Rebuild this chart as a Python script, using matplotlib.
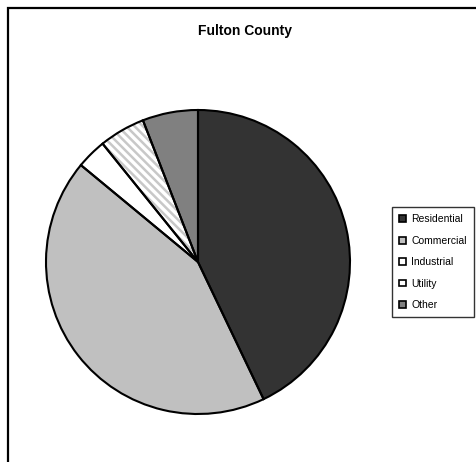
import matplotlib
matplotlib.use("Agg")
import matplotlib.pyplot as plt
from matplotlib.patches import Patch, Rectangle

# Fulton County land use shares (percent)
categorias = ["Residential", "Commercial", "Industrial", "Utility", "Other"]
porcentajes = [42.9, 43.1, 3.2, 4.9, 5.9]
colores = ["#333333", "#c0c0c0", "#ffffff", "#ffffff", "#808080"]
tramas = [None, None, None, "\\\\\\\\", None]

plt.rcParams["font.family"] = ["Liberation Sans", "DejaVu Sans"]
plt.rcParams["hatch.linewidth"] = 1.8

fig = plt.figure(figsize=(4.77, 4.62), dpi=100)
W, H = 477, 462

# pie axes (pixel box of the circle)
ax = fig.add_axes([46 / W, (H - 414) / H, 304 / W, 304 / H])

# fills (with the hatch in light gray)
cunas, _ = ax.pie(porcentajes, colors=colores, startangle=90, counterclock=False,
                  radius=1, wedgeprops=dict(linewidth=0, edgecolor="#c8c8c8"))
for cuna, trama in zip(cunas, tramas):
    if trama:
        cuna.set_hatch(trama)
        cuna.set_edgecolor("#c8c8c8")

# black outlines on top
ax.pie(porcentajes, colors=["none"] * len(porcentajes), startangle=90, counterclock=False,
       radius=1, wedgeprops=dict(linewidth=1.5, edgecolor="black", facecolor="none"))

ax.set_xlim(-1, 1)
ax.set_ylim(-1, 1)
ax.set_aspect("equal")
ax.axis("off")

# title
fig.text(245 / W, 1 - 31 / H, "Fulton County", ha="center", va="center",
         fontsize=10, fontweight="bold")

# legend
manijas = [Patch(facecolor=c, edgecolor="black", linewidth=1.2) for c in colores]
leg = fig.legend(manijas, categorias, loc="upper left",
                 bbox_to_anchor=(392 / W, 1 - 207 / H), fontsize=7.5,
                 frameon=True, fancybox=False, edgecolor="black",
                 handlelength=0.65, handleheight=0.65, handletextpad=0.5,
                 labelspacing=1.1, borderpad=0.7, borderaxespad=0)
leg.get_frame().set_linewidth(1.0)

# outer chart border (right and bottom run past the image)
fig.add_artist(Rectangle((8 / W, -0.2), 1.2, 1.2 - 8 / H, transform=fig.transFigure,
                         fill=False, edgecolor="black", linewidth=1.6))

fig.savefig("out.png", dpi=100)
